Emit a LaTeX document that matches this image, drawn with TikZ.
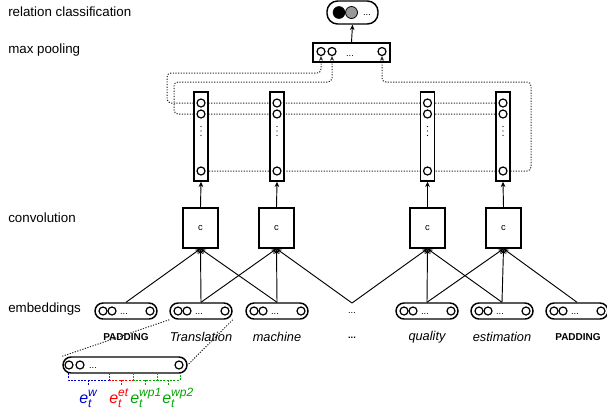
\documentclass[tikz,border=0pt]{standalone}
\usepackage{fontspec}
\setmainfont{Liberation Sans}
\usetikzlibrary{arrows.meta}
\pgfdeclarelayer{bg}
\pgfsetlayers{bg,main}
\newcommand{\embpart}[1]{e\rlap{\raisebox{-3.2pt}{\fontsize{9}{9}\selectfont t}}\raisebox{5pt}{\fontsize{9}{9}\selectfont #1}}
\begin{document}
\begin{tikzpicture}[x=0.75pt,y=-0.75pt,
  emb/.style={draw, line width=1.1pt, rounded corners=6pt, minimum width=46.5pt, minimum height=12pt, inner sep=0pt, fill=white},
  circ/.style={draw, circle, line width=0.9pt, minimum size=6pt, inner sep=0pt, fill=white},
  bar/.style={draw, line width=1.1pt, minimum width=10.5pt, minimum height=66.75pt, inner sep=0pt, fill=white},
  conv/.style={draw, line width=1.1pt, minimum width=26.25pt, minimum height=30pt, inner sep=0pt, font=\fontsize{7}{8}\selectfont, fill=white},
  lbl/.style={font=\fontsize{10}{12}\selectfont, anchor=west, inner sep=0pt},
  word/.style={font=\fontsize{9.6}{11}\selectfont\itshape, inner sep=0pt},
  pad/.style={font=\fontsize{7.5}{9}\selectfont\bfseries, inner sep=0pt},
  dots/.style={font=\fontsize{7}{8}\selectfont, inner sep=0pt},
  arr/.style={-{Stealth[length=4pt,width=3.5pt]}, line width=0.7pt},
  dotl/.style={dash pattern=on 0.9pt off 1.1pt, line width=0.75pt, black!85, rounded corners=3pt},
  br/.style={line width=0.6pt, dash pattern=on 1.5pt off 1pt},
  elab/.style={font=\fontsize{12}{13}\selectfont\itshape, inner sep=0pt, anchor=base west}
]
\useasboundingbox (0,0) rectangle (607,412);
\clip (0,0) rectangle (607,412);

% layer labels
\node[lbl] (lcls) at (8,12) {relation classification};
\node[lbl] (lpool) at (8,50) {max pooling};
\node[lbl] (lconv) at (8,218) {convolution};
\node[lbl] (lemb) at (8,309) {embeddings};

% classification
\node[draw, line width=1.1pt, rounded corners=8pt, minimum width=38.25pt, minimum height=17.25pt, inner sep=0pt] (cls) at (352.5,12.5) {};
\node[circle, fill=black, draw=black, minimum size=9pt, inner sep=0pt] (k1) at (339,12.5) {};
\node[circle, fill=black!40, draw=black, line width=0.6pt, minimum size=9pt, inner sep=0pt] (k2) at (351.5,12.5) {};
\node[dots] (kd) at (367,15) {...};

% max pooling
\node[draw, line width=1.1pt, minimum width=57.75pt, minimum height=14.25pt, inner sep=0pt] (pool) at (351.5,52.5) {};
\node[circ] (p1) at (321,51.5) {};
\node[circ] (p2) at (332,51.5) {};
\node[circ] (p3) at (382,51.5) {};
\node[dots] (pd) at (350,56) {...};
\draw[arr] (pool.north) -- (cls.south);

% bars
\foreach \n/\x in {b1/201,b2/277,b3/427.5,b4/503}{
  \node[bar] (\n) at (\x,136.5) {};
  \node[circ] (\n r1) at (\x,103) {};
  \node[circ] (\n r2) at (\x,114) {};
  \node[circ] (\n r3) at (\x,171) {};
  \foreach \yy in {126.5,131,135.5}{\fill (\x,\yy) circle (0.45pt);}
}

% dotted pooling connectors
\begin{pgfonlayer}{bg}
\draw[dotl,-{Stealth[length=3.5pt,width=3pt]}] (b4r1.center) -- (b1r1.center) -- (167,103) -- (167,73) -| (p1.south);
\draw[dotl,-{Stealth[length=3.5pt,width=3pt]}] (b4r2.center) -- (b1r2.center) -- (174,114) -- (174,82) -| (p2.south);
\draw[dotl,-{Stealth[length=3.5pt,width=3pt]}] (b1r3.center) -- (b4r3.center) -- (531,171) -- (531,82) -| (p3.south);
\end{pgfonlayer}

% convolution boxes
\foreach \n/\b/\x in {c1/b1/200.5,c2/b2/276.5,c3/b3/427.5,c4/b4/503.5}{
  \node[conv] (\n) at (\x,228) {c};
  \draw[arr] (\n.north) -- (\b.south);
}

% embeddings
\foreach \n/\x in {e1/126,e2/201,e3/277,e4/427,e5/502,e6/577}{
  \node[emb] (\n) at (\x,311) {};
  \node[circ] (\n a) at (\x-23,311) {};
  \node[circ] (\n b) at (\x-14,311) {};
  \node[dots] (\n d) at (\x-2,313.5) {...};
  \node[circ] (\n c) at (\x+24,311) {};
}
\node[dots] (mdots) at (352,312.5) {...};
\coordinate (mid) at (352,303);

% words
\node[pad] (w1) at (126,337) {PADDING};
\node[word] (w2) at (201,337) {Translation};
\node[word] (w3) at (277,337) {machine};
\node[dots, font=\fontsize{7}{8}\selectfont\bfseries] (w0) at (352,338) {...};
\node[word] (w4) at (427,337) {quality};
\node[word] (w5) at (502,337) {estimation};
\node[pad] (w6) at (578,337) {PADDING};

% conv inputs
\begin{pgfonlayer}{bg}
\foreach \s/\t in {e1/c1,e2/c1,e3/c1,e2/c2,e3/c2,mid/c2,mid/c3,e4/c3,e5/c3,e4/c4,e5/c4,e6/c4}{
  \draw[arr] (\s.north) -- (\t.south);
}
\end{pgfonlayer}

% expanded embedding
\node[emb, minimum width=93pt] (ex) at (125,365) {};
\node[circ] (x1) at (69,365) {};
\node[circ] (x2) at (80,365) {};
\node[dots] (xd) at (93,367.5) {...};
\node[circ] (x3) at (179,365) {};
\draw[dotl, rounded corners=0pt] (e2.south west) -- (ex.north west);
\draw[dotl, rounded corners=0pt] (e2.south east) -- (ex.east);

% braces
\draw[br, blue!80!black] (68,373) -- (68,380) -- (109,380) -- (109,373);
\draw[br, blue!80!black] (88,380) -- (88,385);
\draw[br, red] (109,373) -- (109,380) -- (133,380) -- (133,373);
\draw[br, red] (121,380) -- (121,385);
\draw[br, green!65!black] (133,373) -- (133,380) -- (157,380) -- (157,373);
\draw[br, green!65!black] (145,380) -- (145,385);
\draw[br, green!65!black] (157,373) -- (157,380) -- (180,380) -- (180,373);
\draw[br, green!65!black] (168,380) -- (168,385);

% embedding part labels
\node[elab, text=blue!80!black] (tw) at (79,403) {\embpart{w}};
\node[elab, text=red] (tet) at (109,403) {\embpart{et}};
\node[elab, text=green!65!black] (twp1) at (130,403) {\embpart{wp1}};
\node[elab, text=green!65!black] (twp2) at (162,403) {\embpart{wp2}};
\end{tikzpicture}
\end{document}
